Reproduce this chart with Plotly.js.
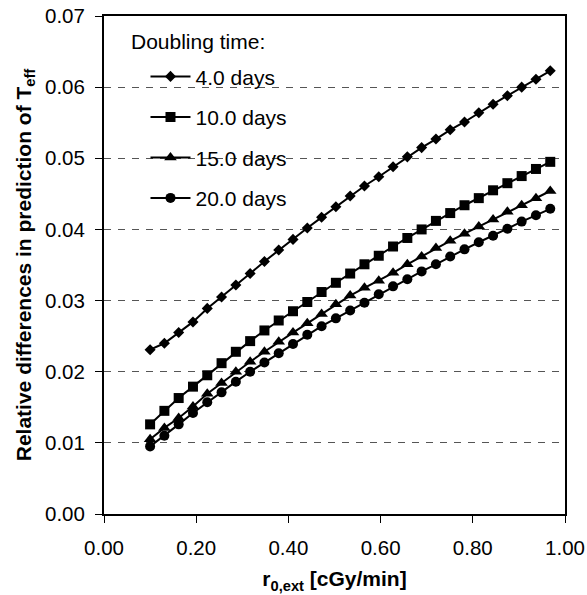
<!DOCTYPE html>
<html>
<head>
<meta charset="utf-8">
<script src="https://cdn.plot.ly/plotly-3.0.1.min.js"></script>
<style>html,body{margin:0;padding:0;background:#fff;}#chart{width:587px;height:595px;}</style>
</head>
<body>
<div id="chart"></div>
<script>
const rate = [0.100,0.131,0.162,0.193,0.224,0.255,0.286,0.317,0.348,0.379,0.410,0.441,0.472,0.503,0.534,0.565,0.596,0.627,0.658,0.689,0.720,0.751,0.782,0.813,0.844,0.875,0.906,0.937,0.968];
const days4 = [0.0231,0.0240,0.0255,0.0270,0.0289,0.0305,0.0322,0.0338,0.0355,0.0371,0.0386,0.0402,0.0417,0.0432,0.0447,0.0461,0.0474,0.0488,0.0502,0.0515,0.0527,0.0540,0.0551,0.0564,0.0576,0.0588,0.0600,0.0611,0.0623];
const days10 = [0.0126,0.0145,0.0163,0.0179,0.0195,0.0212,0.0228,0.0243,0.0258,0.0272,0.0285,0.0298,0.0312,0.0325,0.0338,0.0351,0.0363,0.0376,0.0388,0.0400,0.0412,0.0423,0.0434,0.0444,0.0455,0.0465,0.0475,0.0485,0.0495];
const days15 = [0.0105,0.0121,0.0135,0.0151,0.0169,0.0184,0.0200,0.0214,0.0228,0.0242,0.0255,0.0268,0.0281,0.0295,0.0307,0.0318,0.0328,0.0339,0.0351,0.0362,0.0374,0.0384,0.0394,0.0404,0.0414,0.0425,0.0434,0.0444,0.0454];
const days20 = [0.0095,0.0110,0.0126,0.0142,0.0157,0.0171,0.0186,0.0200,0.0213,0.0226,0.0239,0.0252,0.0264,0.0275,0.0286,0.0297,0.0309,0.0320,0.0330,0.0341,0.0351,0.0362,0.0372,0.0382,0.0391,0.0401,0.0411,0.0420,0.0429];
const seriesNames = ['4.0 days','10.0 days','15.0 days','20.0 days'];
const seriesData = [days4, days10, days15, days20];
const legendTitle = 'Doubling time:';
const symbols = ['diamond','square','triangle-up','circle'];
const sizes = [8.5, 10, 11, 10];

const FONT = 'Liberation Sans, Arial, sans-serif';
const traces = seriesData.map((ys, i) => ({
  type: 'scatter', mode: 'lines+markers',
  x: rate, y: ys, name: seriesNames[i], legendgroup: 'g' + i,
  line: {color: '#000', width: 2},
  marker: {symbol: symbols[i], size: sizes[i], color: '#000', line: {width: 0}}
}));

const layout = {
  width: 587, height: 595,
  margin: {l: 104, r: 22, t: 16, b: 81},
  paper_bgcolor: '#fff', plot_bgcolor: '#fff',
  font: {family: FONT, color: '#000', size: 20},
  showlegend: true,
  legend: {
    x: 0.09, y: 0.9192, xanchor: 'left', yanchor: 'top',
    bgcolor: 'rgba(0,0,0,0)', borderwidth: 0,
    font: {family: FONT, size: 21, color: '#000'},
    itemwidth: 40,
    tracegroupgap: 10.2
  },
  shapes: [{
    type: 'rect', xref: 'paper', yref: 'paper', layer: 'between',
    x0: 0.0412, x1: 0.436, y0: 0.586, y1: 0.984,
    fillcolor: '#fff', line: {width: 0}
  }],
  annotations: [{
    text: legendTitle, xref: 'paper', yref: 'paper',
    x: 0.0542, y: 0.9478, xanchor: 'left', yanchor: 'middle',
    showarrow: false, font: {family: FONT, size: 21, color: '#000'}
  }],
  xaxis: {
    range: [0, 1], dtick: 0.2, tick0: 0, tickformat: '.2f',
    showline: true, linecolor: '#000', linewidth: 2, mirror: true,
    ticks: 'outside', ticklen: 7, tickwidth: 1, tickcolor: '#000',
    ticklabelstandoff: 7,
    showgrid: false, zeroline: false,
    tickfont: {family: FONT, size: 20.5, color: '#000'},
    title: {text: '<b>r<sub>0,ext</sub> [cGy/min]</b>', font: {family: FONT, size: 21, color: '#000'}, standoff: 14}
  },
  yaxis: {
    range: [0, 0.07], dtick: 0.01, tick0: 0, tickformat: '.2f',
    showline: true, linecolor: '#000', linewidth: 2, mirror: true,
    ticks: 'outside', ticklen: 7, tickwidth: 1, tickcolor: '#000',
    ticklabelstandoff: 6,
    showgrid: true, gridcolor: '#555', gridwidth: 1, griddash: '7px,7px',
    zeroline: false,
    tickfont: {family: FONT, size: 20.5, color: '#000'},
    title: {text: '<b>Relative differences in prediction of T<sub>eff</sub></b>', font: {family: FONT, size: 21, color: '#000'}, standoff: 8}
  }
};

Plotly.newPlot('chart', traces, layout, {displayModeBar: false, staticPlot: true});
</script>
</body>
</html>
